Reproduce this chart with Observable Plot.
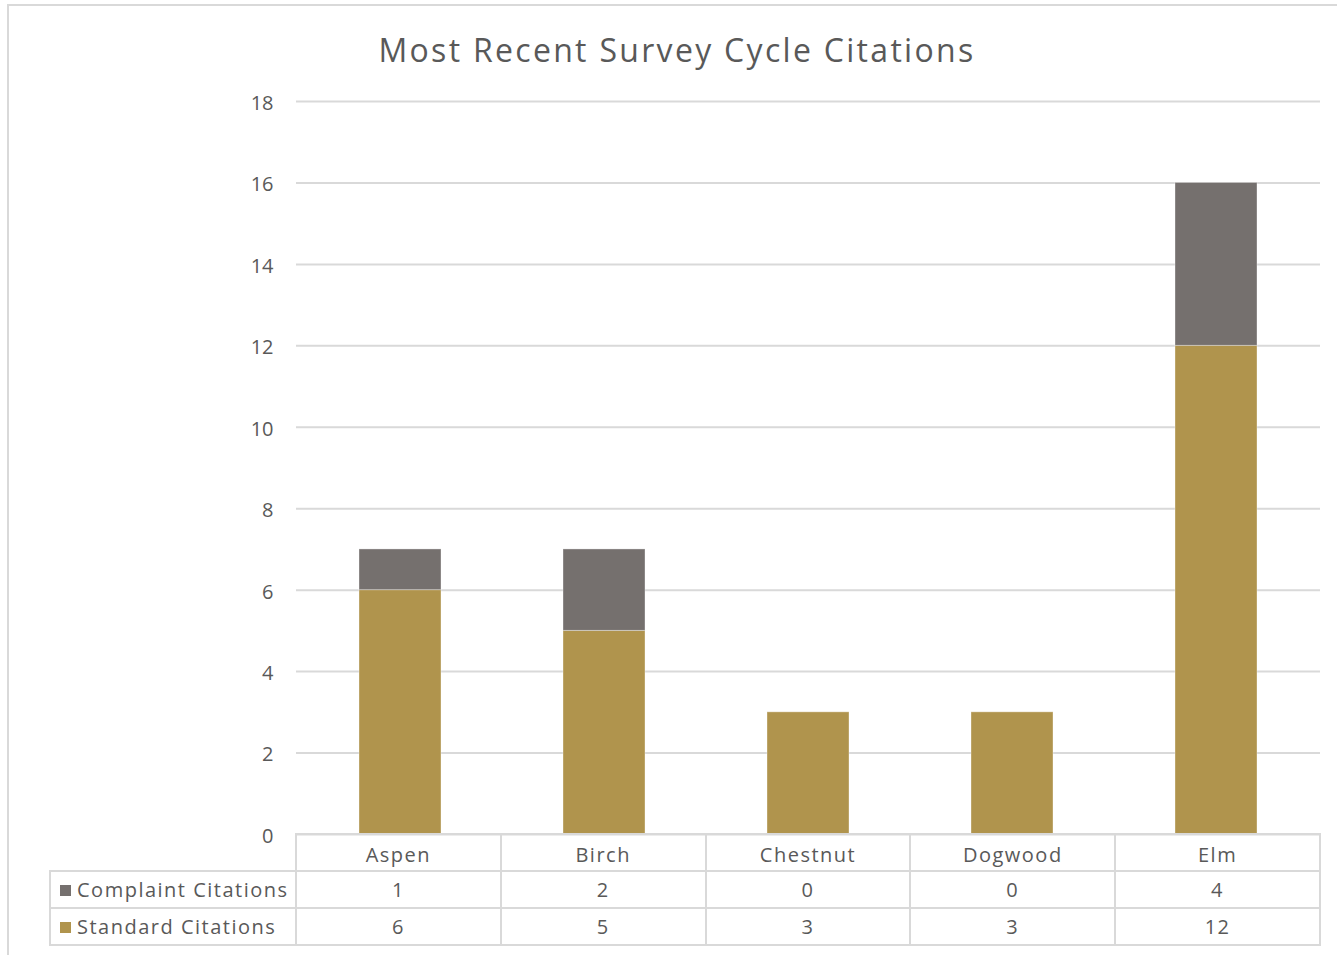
<!DOCTYPE html>
<html>
<head>
<meta charset="utf-8">
<script src="https://cdn.jsdelivr.net/npm/d3@7"></script>
<script src="https://cdn.jsdelivr.net/npm/@observablehq/plot@0.6"></script>
<style>
  html, body { margin: 0; padding: 0; background: #fff; overflow: hidden; }
  #wrap { position: relative; width: 1337px; height: 955px; font-family: "Open Sans", sans-serif; color: #595959; }
  #frame { position: absolute; left: 7px; top: 4px; width: 1400px; height: 1000px; border: 2px solid #d9d9d9; box-sizing: border-box; }
  #title { position: absolute; left: 0; top: 28px; width: 1354px; text-align: center; font-size: 32px; letter-spacing: 2.3px; color: #595959; }
  #chart { position: absolute; left: 0; top: 0; }
  #tbl { position: absolute; border-collapse: collapse; font-size: 20px; letter-spacing: 1.5px; color: #595959; }
  #tbl td { border: 2px solid #d9d9d9; text-align: center; padding: 0; height: 35px; box-sizing: border-box; white-space: nowrap; }
  #tbl td.blank { border-top: none; border-left: none; }
  #tbl td.lab { text-align: left; padding-left: 9px; }
  .sw { display: inline-block; width: 11px; height: 11px; margin-right: 6px; vertical-align: 1px; }
</style>
</head>
<body>
<div id="wrap">
  <div id="frame"></div>
  <div id="title">Most Recent Survey Cycle Citations</div>
  <div id="chart"></div>
  <table id="tbl"></table>
</div>
<script>
const categories = ["Aspen", "Birch", "Chestnut", "Dogwood", "Elm"];
const seriesNames = ["Complaint Citations", "Standard Citations"];
const complaintValues = [1, 2, 0, 0, 4];
const standardValues = [6, 5, 3, 3, 12];
const yTicks = [0, 2, 4, 6, 8, 10, 12, 14, 16, 18];
const colors = { "Complaint Citations": "#75706e", "Standard Citations": "#b0944d" };

const data = [];
categories.forEach((c, i) => data.push({ cat: c, series: "Standard Citations", value: standardValues[i] }));
categories.forEach((c, i) => data.push({ cat: c, series: "Complaint Citations", value: complaintValues[i] }));

const W = 1337, H = 955;
const chart = Plot.plot({
  width: W, height: H,
  marginLeft: 296, marginRight: 17, marginTop: 101, marginBottom: 121,
  style: { fontFamily: "Open Sans, sans-serif", fontSize: "20px", color: "#595959", background: "transparent" },
  x: { type: "band", domain: categories, paddingInner: 0.6, paddingOuter: 0.3, axis: null },
  y: { domain: [0, 18], ticks: yTicks, label: null },
  color: { domain: seriesNames, range: seriesNames.map(s => colors[s]) },
  marks: [
    Plot.ruleY(yTicks, { stroke: "#d9d9d9", strokeWidth: 2 }),
    Plot.axisY({ ticks: yTicks, tickSize: 0, tickPadding: 23, fontSize: 20, fill: "#595959", label: null, dy: 2 }),
    Plot.barY(data, { x: "cat", y: "value", fill: "series", order: null, stroke: "#fff", strokeOpacity: 0.35, strokeWidth: 1 })
  ]
});
document.getElementById("chart").appendChild(chart);

// Data table aligned with the x band scale
const xs = chart.scale("x");
const [r0, r1] = xs.range;
const colW = (r1 - r0) / categories.length;
const tbl = document.getElementById("tbl");
const labelW = 246;
tbl.style.left = (r0 - labelW - 1) + "px";
tbl.style.top = (H - 121 - 1) + "px";
let html = '<colgroup><col style="width:' + labelW + 'px">' + categories.map(() => '<col style="width:' + colW + 'px">').join("") + '</colgroup>';
html += '<tr style="height:37px"><td class="blank"></td>' + categories.map(c => '<td style="padding-top:3px">' + c + "</td>").join("") + "</tr>";
const rows = [["Complaint Citations", complaintValues], ["Standard Citations", standardValues]];
rows.forEach(([name, vals]) => {
  html += '<tr style="height:37px"><td class="lab"><span class="sw" style="background:' + colors[name] + '"></span>' + name + "</td>" +
    vals.map(v => "<td>" + v + "</td>").join("") + "</tr>";
});
tbl.innerHTML = html;
tbl.style.width = (labelW + colW * categories.length) + "px";
tbl.style.tableLayout = "fixed";
</script>
</body>
</html>
